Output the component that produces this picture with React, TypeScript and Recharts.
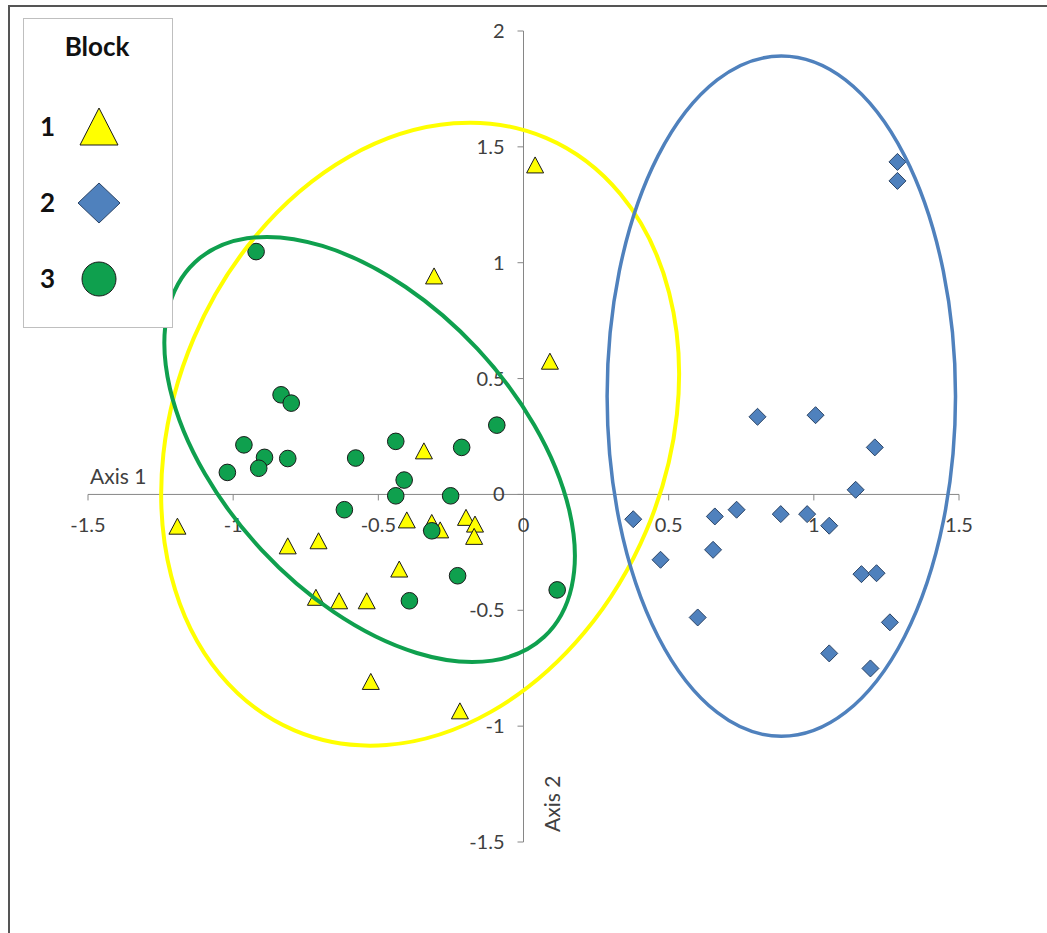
import {
  ScatterChart,
  Scatter,
  XAxis,
  YAxis,
  ReferenceLine,
  ReferenceDot,
  Legend,
} from 'recharts';

const X_TICKS = [-1.5, -1, -0.5, 0, 0.5, 1, 1.5];
const Y_TICKS = [-1.5, -1, -0.5, 0, 0.5, 1, 1.5, 2];

// Block 1 (triangles)
const block1X = [
  -1.192, -0.402, -0.316, -0.287, -0.198, -0.167, -0.17, -0.812, -0.706, -0.428,
  -0.715, -0.635, -0.54, -0.526, -0.219, -0.308, -0.343, 0.04, 0.091,
];
const block1Y = [
  -0.137, -0.11, -0.121, -0.153, -0.099, -0.128, -0.181, -0.222, -0.2, -0.322,
  -0.444, -0.459, -0.459, -0.807, -0.934, 0.943, 0.188, 1.422, 0.575,
];

// Block 2 (diamonds)
const block2X = [
  0.806, 1.006, 1.21, 1.144, 0.378, 0.659, 0.734, 0.886, 0.977, 1.053,
  0.472, 0.653, 0.6, 1.164, 1.216, 1.262, 1.053, 1.195, 1.288, 1.288,
];
const block2Y = [
  0.335, 0.342, 0.203, 0.02, -0.107, -0.095, -0.066, -0.085, -0.085, -0.135,
  -0.282, -0.239, -0.531, -0.344, -0.34, -0.552, -0.686, -0.751, 1.435, 1.353,
];

// Block 3 (circles)
const block3X = [
  -0.921, -0.835, -0.8, -0.963, -0.892, -0.812, -1.02, -0.912, -0.578, -0.44,
  -0.213, -0.092, -0.411, -0.44, -0.251, -0.617, -0.316, -0.227, 0.116, -0.393,
];
const block3Y = [
  1.048, 0.43, 0.394, 0.214, 0.16, 0.155, 0.095, 0.113, 0.157, 0.229,
  0.203, 0.299, 0.062, -0.006, -0.006, -0.066, -0.157, -0.351, -0.412, -0.459,
];

// group ellipses: centre in axis units, half-widths in axis units, tilt in degrees
const ELLIPSE_CX = [-0.356, -0.53, 0.888];
const ELLIPSE_CY = [0.26, 0.194, 0.424];
const ELLIPSE_RX = [0.847, 0.508, 0.6];
const ELLIPSE_RY = [1.389, 1.105, 1.468];
const ELLIPSE_ANGLE = [23, -43, 0];
const ELLIPSE_COLOR = ['#FFFF00', '#0FA04E', '#4F81BD'];

const toPoints = (xs: number[], ys: number[]) => xs.map((x, i) => ({ x, y: ys[i] }));

const CHART_W = 1037;
const CHART_H = 915;
const MARGIN = { top: 24, right: 88, bottom: 80, left: 78 };
const PX_PER_X = (CHART_W - MARGIN.left - MARGIN.right) / 3;
const PX_PER_Y = (CHART_H - MARGIN.top - MARGIN.bottom) / 3.5;

const FONT = 'Lato, "Liberation Sans", sans-serif';
const AXIS_COLOR = '#868686';
const TEXT_COLOR = '#404040';

const TriangleMark = (props: any) => {
  const { cx, cy } = props;
  return (
    <path
      d={`M${cx},${cy - 8} L${cx + 8.5},${cy + 8} L${cx - 8.5},${cy + 8} Z`}
      fill="#FFFF00"
      stroke="#1a1a1a"
      strokeWidth={1}
    />
  );
};

const DiamondMark = (props: any) => {
  const { cx, cy } = props;
  return (
    <path
      d={`M${cx},${cy - 8.5} L${cx + 8.5},${cy} L${cx},${cy + 8.5} L${cx - 8.5},${cy} Z`}
      fill="#4F81BD"
      stroke="#2b4466"
      strokeWidth={1}
    />
  );
};

const CircleMark = (props: any) => {
  const { cx, cy } = props;
  return <circle cx={cx} cy={cy} r={8.3} fill="#0FA04E" stroke="#1a1a1a" strokeWidth={1} />;
};

function BlockLegend({ payload }: any) {
  const items = payload || [];
  return (
    <div
      style={{
        width: 150,
        height: 310,
        border: '1px solid #BFBFBF',
        background: '#fff',
        boxSizing: 'border-box',
      }}
    >
      <svg width={148} height={308}>
        <text x={73} y={37} textAnchor="middle" fontFamily={FONT} fontWeight="bold" fontSize={26} fill="#111">
          Block
        </text>
        {items.map((entry: any, i: number) => {
          const cy = 108 + i * 76;
          let icon;
          if (entry.type === 'triangle') {
            icon = <path d={`M75,${cy - 19} L94,${cy + 18} L56,${cy + 18} Z`} fill={entry.color} stroke="#1a1a1a" strokeWidth={1} />;
          } else if (entry.type === 'diamond') {
            icon = <path d={`M75,${cy - 20} L96,${cy} L75,${cy + 20} L54,${cy} Z`} fill={entry.color} stroke="#2b4466" strokeWidth={1} />;
          } else {
            icon = <circle cx={75} cy={cy} r={17} fill={entry.color} stroke="#1a1a1a" strokeWidth={1} />;
          }
          return (
            <g key={entry.value}>
              <text x={16} y={cy + 9} fontFamily={FONT} fontWeight="bold" fontSize={26} fill="#111">
                {entry.value}
              </text>
              {icon}
            </g>
          );
        })}
      </svg>
    </div>
  );
}

export default function App() {
  return (
    <div
      style={{
        position: 'absolute',
        left: 8,
        top: 5,
        width: 1039,
        height: 928,
        borderTop: '2px solid #555',
        borderLeft: '2px solid #555',
        boxSizing: 'border-box',
        background: '#fff',
      }}
    >
      <ScatterChart width={CHART_W} height={CHART_H} margin={MARGIN}>
        <XAxis type="number" dataKey="x" domain={[-1.5, 1.5]} ticks={X_TICKS} hide />
        <YAxis type="number" dataKey="y" domain={[-1.5, 2]} ticks={Y_TICKS} hide />

        <ReferenceLine x={0} stroke={AXIS_COLOR} strokeWidth={1} />
        <ReferenceLine y={0} stroke={AXIS_COLOR} strokeWidth={1} />

        {X_TICKS.map((t) => (
          <ReferenceDot
            key={'xt' + t}
            x={t}
            y={0}
            shape={(p: any) => (
              <g>
                <line x1={p.cx} y1={p.cy} x2={p.cx} y2={p.cy + 6} stroke={AXIS_COLOR} />
                <text x={p.cx} y={p.cy + 38} textAnchor="middle" fontFamily={FONT} fontSize={20} fill={TEXT_COLOR}>
                  {String(t)}
                </text>
              </g>
            )}
          />
        ))}
        {Y_TICKS.map((t) => (
          <ReferenceDot
            key={'yt' + t}
            x={0}
            y={t}
            shape={(p: any) => (
              <g>
                <line x1={p.cx - 6} y1={p.cy} x2={p.cx} y2={p.cy} stroke={AXIS_COLOR} />
                <text x={p.cx - 19} y={p.cy + 7} textAnchor="end" fontFamily={FONT} fontSize={20} fill={TEXT_COLOR}>
                  {String(t)}
                </text>
              </g>
            )}
          />
        ))}

        <ReferenceDot
          x={-1.5}
          y={0}
          shape={(p: any) => (
            <text x={p.cx + 2} y={p.cy - 10} fontFamily={FONT} fontSize={21} fill={TEXT_COLOR}>
              Axis 1
            </text>
          )}
        />
        <ReferenceDot
          x={0}
          y={-1.5}
          shape={(p: any) => (
            <text
              x={p.cx + 36}
              y={p.cy - 10}
              transform={`rotate(-90 ${p.cx + 36} ${p.cy - 10})`}
              fontFamily={FONT}
              fontSize={21}
              fill={TEXT_COLOR}
            >
              Axis 2
            </text>
          )}
        />

        <Scatter name="1" data={toPoints(block1X, block1Y)} fill="#FFFF00" legendType="triangle" shape={TriangleMark} isAnimationActive={false} />
        <Scatter name="2" data={toPoints(block2X, block2Y)} fill="#4F81BD" legendType="diamond" shape={DiamondMark} isAnimationActive={false} />
        <Scatter name="3" data={toPoints(block3X, block3Y)} fill="#0FA04E" legendType="circle" shape={CircleMark} isAnimationActive={false} />

        {ELLIPSE_CX.map((ex, i) => (
          <ReferenceDot
            key={'el' + i}
            x={ex}
            y={ELLIPSE_CY[i]}
            shape={(p: any) => (
              <ellipse
                cx={p.cx}
                cy={p.cy}
                rx={ELLIPSE_RX[i] * PX_PER_X}
                ry={ELLIPSE_RY[i] * PX_PER_Y}
                transform={`rotate(${ELLIPSE_ANGLE[i]} ${p.cx} ${p.cy})`}
                fill="none"
                stroke={ELLIPSE_COLOR[i]}
                strokeWidth={i === 2 ? 3.5 : 4}
              />
            )}
          />
        ))}

        <Legend
          layout="vertical"
          align="center"
          verticalAlign="middle"
          width={150}
          height={310}
          wrapperStyle={{ left: 13, top: 11 }}
          content={BlockLegend}
        />
      </ScatterChart>
    </div>
  );
}
